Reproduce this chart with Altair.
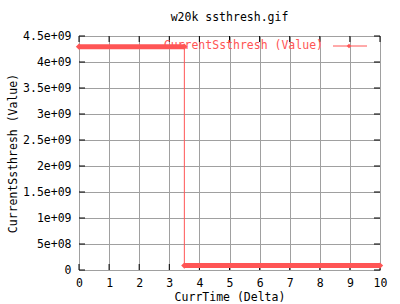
import altair as alt
import pandas as pd

title_text = "w20k ssthresh.gif"
x_title = "CurrTime (Delta)"
y_title = "CurrentSsthresh (Value)"
series_name = "CurrentSsthresh (Value)"

# step series: each flat segment (start time, end time, value)
seg_start = [0.0, 3.5]
seg_end = [3.5, 10.0]
seg_value = [4294967295, 85000000]

x_ticks = [0, 1, 2, 3, 4, 5, 6, 7, 8, 9, 10]
y_ticks = [0, 5e8, 1e9, 1.5e9, 2e9, 2.5e9, 3e9, 3.5e9, 4e9, 4.5e9]
y_tick_labels = ["0", "5e+08", "1e+09", "1.5e+09", "2e+09", "2.5e+09",
                 "3e+09", "3.5e+09", "4e+09", "4.5e+09"]

RED = "#ff5555"
GRID = "#a0a0a0"
FONT = "DejaVu Sans Mono"
FS = 11.5
W, H = 301, 234
TICK = 6

segs = pd.DataFrame({"start": seg_start, "end": seg_end, "value": seg_value})
path = pd.DataFrame({
    "t": [seg_start[0], seg_end[0], seg_start[1], seg_end[1]],
    "v": [seg_value[0], seg_value[0], seg_value[1], seg_value[1]],
    "o": [0, 1, 2, 3],
})
ends = pd.DataFrame({"t": seg_start + seg_end, "v": seg_value + seg_value})
xt = pd.DataFrame({"x": x_ticks})
yt = pd.DataFrame({"y": y_ticks})

label_expr = "[" + ",".join("'%s'" % s for s in y_tick_labels) + "][round(datum.value/5e8)]"

xscale = alt.Scale(domain=[0, 10], nice=False, zero=False)
yscale = alt.Scale(domain=[0, 4.5e9], nice=False)

xaxis = alt.Axis(values=x_ticks, grid=True, gridColor=GRID, gridOpacity=1, ticks=False,
                 domain=False, labelPadding=7, labelFont=FONT, labelFontSize=FS,
                 labelColor="black", labelOverlap=False, title=x_title, titleFont=FONT,
                 titleFontSize=FS, titleFontWeight="normal", titlePadding=3,
                 titleColor="black", labelFlush=False)
yaxis = alt.Axis(values=y_ticks, grid=True, gridColor=GRID, gridOpacity=1, ticks=False,
                 domain=False, labelPadding=8, labelFont=FONT, labelFontSize=FS,
                 labelColor="black", labelOverlap=False, labelExpr=label_expr,
                 title=y_title, titleFont=FONT, titleFontSize=FS, titleFontWeight="normal",
                 titleColor="black", titlePadding=4)


def X(field):
    return alt.X(field, scale=xscale, axis=xaxis)


def Y(field):
    return alt.Y(field, scale=yscale, axis=yaxis)


thin = alt.Chart(path).mark_line(color=RED, strokeWidth=1).encode(
    x=X("t:Q"), y=Y("v:Q"), order="o:O")

thick = alt.Chart(segs).mark_rule(color=RED, strokeWidth=5).encode(
    x=X("start:Q"), x2="end:Q", y=Y("value:Q"))

endpts = alt.Chart(ends).mark_point(shape="diamond", filled=True, color=RED, size=40, opacity=1).encode(
    x=X("t:Q"), y=Y("v:Q"))

xb = alt.Chart(xt).mark_rule(color="black").encode(
    x=X("x:Q"), y=alt.value(H), y2=alt.value(H - TICK))
xtop = alt.Chart(xt).mark_rule(color="black").encode(
    x=X("x:Q"), y=alt.value(0), y2=alt.value(TICK))
yl = alt.Chart(yt).mark_rule(color="black").encode(
    y=Y("y:Q"), x=alt.value(0), x2=alt.value(TICK))
yr = alt.Chart(yt).mark_rule(color="black").encode(
    y=Y("y:Q"), x=alt.value(W), x2=alt.value(W - TICK))

leg_df = pd.DataFrame({"name": [series_name]})
leg_text = alt.Chart(leg_df).mark_text(align="right", baseline="middle", color=RED,
                                       font=FONT, fontSize=FS).encode(
    x=alt.value(244), y=alt.value(10), text="name:N")
leg_line = alt.Chart(leg_df).mark_rule(color=RED, strokeWidth=1).encode(
    x=alt.value(254), x2=alt.value(288), y=alt.value(10))
leg_pt = alt.Chart(leg_df).mark_point(shape="diamond", filled=True, color=RED, size=20, opacity=1).encode(
    x=alt.value(270), y=alt.value(10))

chart = alt.layer(thin, xb, xtop, yl, yr, thick, endpts, leg_line, leg_pt, leg_text).properties(
    width=W, height=H,
    title=alt.TitleParams(title_text, font=FONT, fontSize=FS, fontWeight="normal",
                          color="black", offset=7),
    autosize=alt.AutoSizeParams(type="none"),
    padding={"left": 79, "top": 36, "right": 20, "bottom": 34},
).configure_view(stroke="black", strokeWidth=1).configure(background="white")

chart.save("out.html", embed_options={"renderer": "svg", "actions": False})
